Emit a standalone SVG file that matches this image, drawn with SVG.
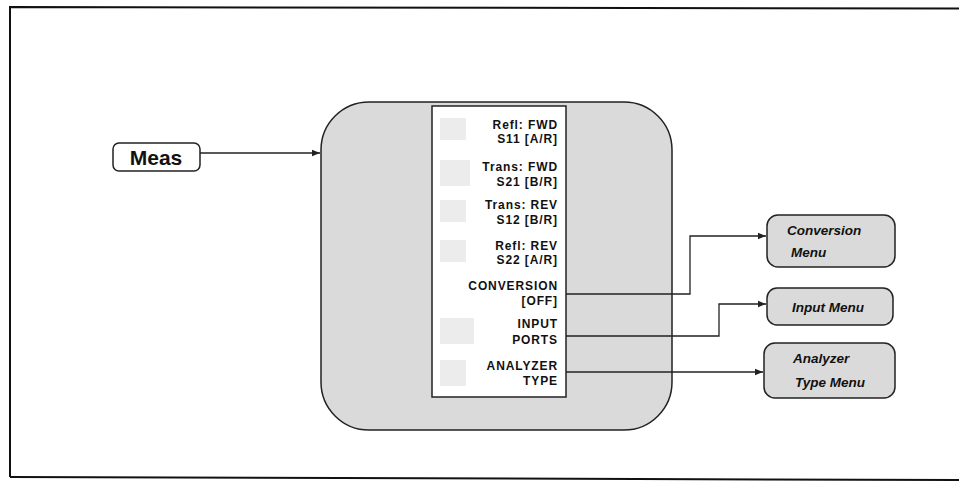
<svg xmlns="http://www.w3.org/2000/svg" width="959" height="483" viewBox="0 0 959 483">
<style>
.frame{fill:none;stroke:#111;stroke-width:2}
.node{fill:#dadada;stroke:#222;stroke-width:1.5}
.white{fill:#fff;stroke:#222;stroke-width:1.5}
.ghost{fill:#ececec;stroke:none}
.key{font-family:"Liberation Sans",Arial,sans-serif;font-weight:bold;font-size:12px;letter-spacing:0.9px;fill:#111;text-anchor:end}
.menu{font-family:"Liberation Sans",Arial,sans-serif;font-weight:bold;font-style:italic;font-size:13.5px;fill:#111}
.meas{font-family:"Liberation Sans",Arial,sans-serif;font-weight:bold;font-size:21px;fill:#111;text-anchor:middle}
.conn{fill:none;stroke:#222;stroke-width:1.3}
</style>
<defs>
<marker id="arr" viewBox="0 0 10 10" refX="10" refY="5" markerWidth="8" markerHeight="8" markerUnits="userSpaceOnUse" orient="auto">
<path d="M0,1 L10,5 L0,9 z" fill="#222"/>
</marker>
</defs>
<rect width="959" height="483" fill="#fff"/>
<path class="frame" d="M10,477 L10,7 L959,8.5"/>
<path class="frame" d="M10,477 L959,480"/>

<g id="menu-panel">
<rect class="node" x="321" y="102" width="351" height="328" rx="48" ry="48"/>
<rect class="white" x="432" y="106" width="134" height="291"/>
<rect class="ghost" x="440" y="118" width="26" height="22"/>
<rect class="ghost" x="440" y="160" width="30" height="26"/>
<rect class="ghost" x="440" y="200" width="26" height="22"/>
<rect class="ghost" x="440" y="240" width="26" height="22"/>
<rect class="ghost" x="440" y="318" width="34" height="26"/>
<rect class="ghost" x="440" y="360" width="26" height="26"/>
<text class="key" x="558" y="129">Refl: FWD</text>
<text class="key" x="558" y="143">S11 [A/R]</text>
<text class="key" x="558" y="171">Trans: FWD</text>
<text class="key" x="558" y="186">S21 [B/R]</text>
<text class="key" x="558" y="209">Trans: REV</text>
<text class="key" x="558" y="224">S12 [B/R]</text>
<text class="key" x="558" y="250">Refl: REV</text>
<text class="key" x="558" y="264">S22 [A/R]</text>
<text class="key" x="558" y="290">CONVERSION</text>
<text class="key" x="558" y="305">[OFF]</text>
<text class="key" x="558" y="328">INPUT</text>
<text class="key" x="558" y="344">PORTS</text>
<text class="key" x="558" y="370">ANALYZER</text>
<text class="key" x="558" y="385">TYPE</text>
</g>

<g id="meas">
<rect class="white" x="113" y="143" width="87" height="28" rx="6" ry="6"/>
<text class="meas" x="156" y="165">Meas</text>
</g>

<g id="conversion-menu">
<rect class="node" x="767" y="215" width="128" height="52" rx="11" ry="11"/>
<text class="menu" x="787" y="235">Conversion</text>
<text class="menu" x="791" y="257">Menu</text>
</g>

<g id="input-menu">
<rect class="node" x="767" y="288" width="126" height="37" rx="10" ry="10"/>
<text class="menu" x="792" y="312">Input Menu</text>
</g>

<g id="analyzer-type-menu">
<rect class="node" x="764" y="343" width="131" height="55" rx="11" ry="11"/>
<text class="menu" x="793" y="363">Analyzer</text>
<text class="menu" x="795" y="387">Type Menu</text>
</g>

<g id="connectors">
<path class="conn" d="M200,153 L320,153" marker-end="url(#arr)"/>
<path class="conn" d="M566,294 L690,294 L690,236 L766,236" marker-end="url(#arr)"/>
<path class="conn" d="M566,336 L719,336 L719,304 L766,304" marker-end="url(#arr)"/>
<path class="conn" d="M566,372 L763,372" marker-end="url(#arr)"/>
</g>
</svg>
